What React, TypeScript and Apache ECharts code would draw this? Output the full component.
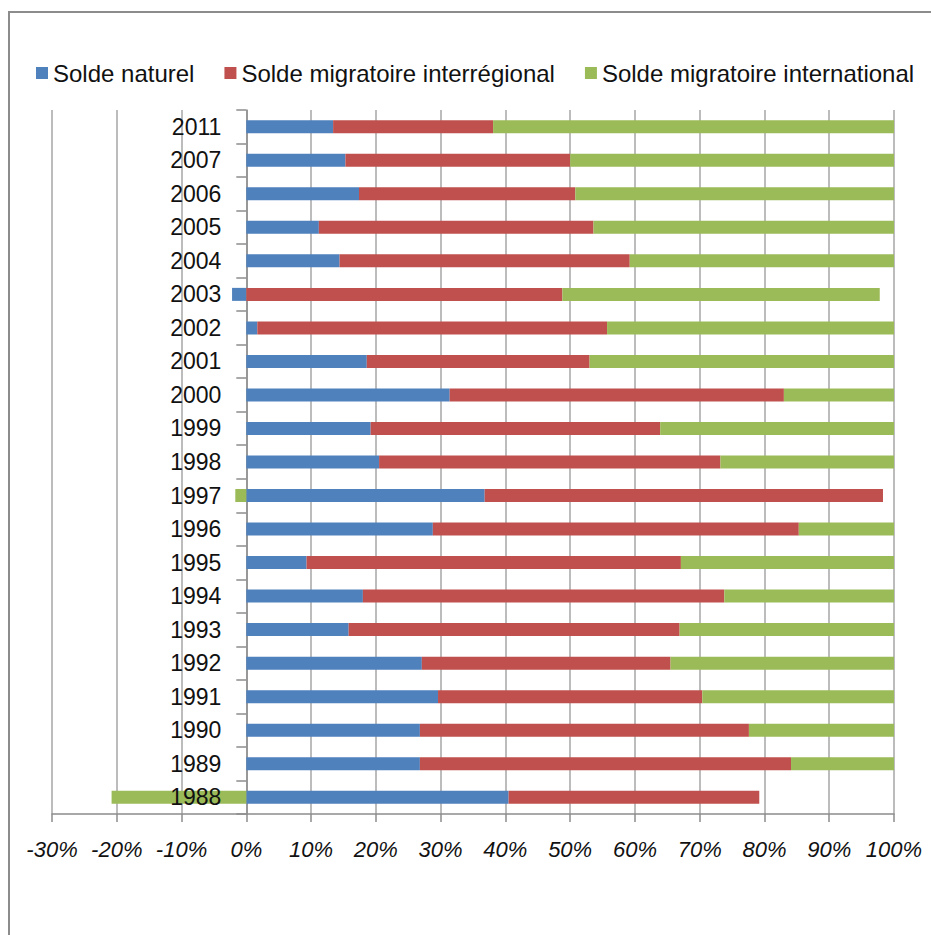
import React, { useEffect, useRef } from "react";
import * as echarts from "echarts";

const years = [
  "1988", "1989", "1990", "1991", "1992", "1993", "1994", "1995", "1996", "1997",
  "1998", "1999", "2000", "2001", "2002", "2003", "2004", "2005", "2006", "2007", "2011",
];

const soldeNaturel = [
  40.5, 26.8, 26.8, 29.6, 27.1, 15.8, 18.0, 9.3, 28.8, 36.8,
  20.5, 19.2, 31.4, 18.6, 1.7, -2.2, 14.4, 11.2, 17.4, 15.3, 13.4,
];

const soldeInterregional = [
  38.7, 57.3, 50.8, 40.8, 38.4, 51.1, 55.8, 57.8, 56.5, 61.5,
  52.7, 44.7, 51.6, 34.4, 54.0, 48.8, 44.8, 42.4, 33.4, 34.7, 24.7,
];

const soldeInternational = [
  -20.8, 15.9, 22.4, 29.6, 34.5, 33.1, 26.2, 32.9, 14.7, -1.7,
  26.8, 36.1, 17.0, 47.0, 44.3, 49.0, 40.8, 46.4, 49.2, 50.0, 61.9,
];

const seriesNames = [
  "Solde naturel",
  "Solde migratoire interrégional",
  "Solde migratoire international",
];

const colors = ["#4F81BD", "#C0504D", "#9BBB59"];

const FONT = "'Liberation Sans', Arial, sans-serif";

export default function App() {
  const ref = useRef<HTMLDivElement>(null);

  useEffect(() => {
    if (!ref.current) return;
    const chart = echarts.init(ref.current, undefined, { renderer: "svg" });
    const seriesData = [soldeNaturel, soldeInterregional, soldeInternational];
    chart.setOption({
      animation: false,
      backgroundColor: "#ffffff",
      color: colors,
      graphic: [
        {
          type: "rect",
          shape: { x: 9, y: 12, width: 1000, height: 1000 },
          style: { fill: "none", stroke: "#8c8c8c", lineWidth: 2 },
          silent: true,
        },
      ],
      legend: {
        left: 31,
        top: 56,
        icon: "rect",
        itemWidth: 12,
        itemHeight: 12,
        itemGap: 30,
        textStyle: { fontSize: 24, color: "#111111", fontFamily: FONT },
        data: seriesNames,
      },
      grid: {
        left: 52,
        right: 37,
        top: 110,
        bottom: 121,
        containLabel: false,
        outerBoundsMode: "none",
      },
      xAxis: {
        type: "value",
        min: -30,
        max: 100,
        interval: 10,
        axisLine: { show: true, onZero: false, lineStyle: { color: "#8c8c8c", width: 1.5 } },
        axisTick: { show: true, length: 8, lineStyle: { color: "#8c8c8c", width: 1.5 } },
        splitLine: { show: true, lineStyle: { color: "#a6a6a6", width: 1.5 } },
        axisLabel: {
          formatter: "{value}%",
          fontSize: 22,
          fontStyle: "italic",
          color: "#111111",
          fontFamily: FONT,
          margin: 24,
        },
      },
      yAxis: {
        type: "category",
        data: years,
        axisLine: { show: true, onZero: true, lineStyle: { color: "#8c8c8c", width: 1.5 } },
        axisTick: { show: true, length: 10, lineStyle: { color: "#8c8c8c", width: 1.5 } },
        axisLabel: { show: false },
        splitLine: { show: false },
      },
      series: [
        ...seriesNames.map((name, i) => ({
          name,
          type: "bar",
          stack: "total",
          barWidth: 13,
          data: seriesData[i],
          itemStyle: { color: colors[i] },
        })),
        {
          name: "labels",
          type: "scatter",
          data: years.map((y) => [0, y]),
          symbolSize: 0,
          silent: true,
          z: 10,
          itemStyle: { opacity: 1 },
          label: {
            show: true,
            position: "left",
            distance: 25,
            formatter: (p: any) => p.value[1],
            fontSize: 23,
            color: "#111111",
            opacity: 1,
            fontFamily: FONT,
          },
        },
      ],
    });
    return () => chart.dispose();
  }, []);

  return (
    <div
      ref={ref}
      style={{ position: "fixed", left: 0, top: 0, width: 931, height: 935, background: "#fff" }}
    />
  );
}
